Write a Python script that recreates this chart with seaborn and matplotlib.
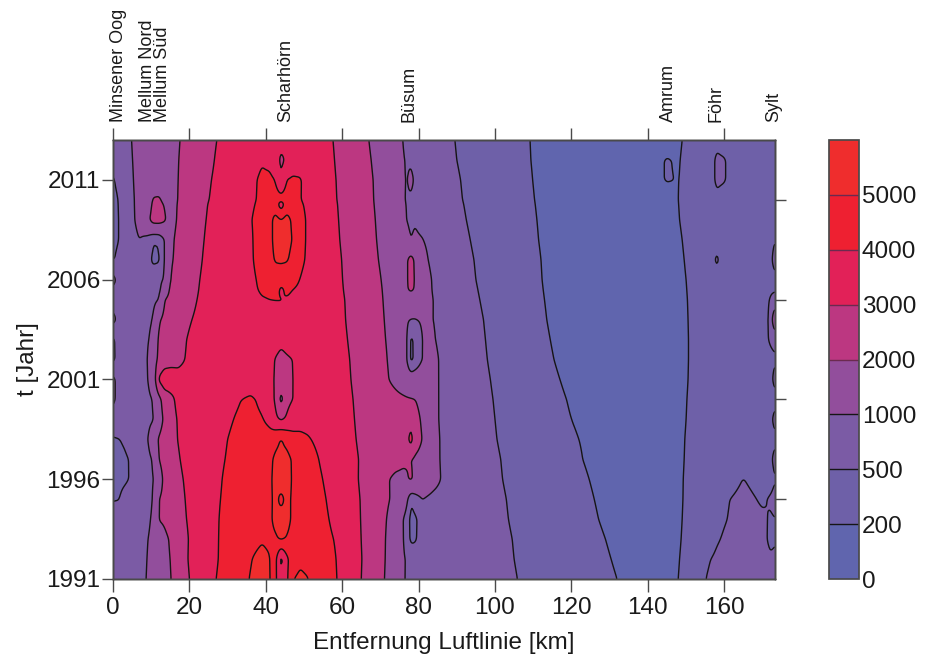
import numpy as np
import matplotlib
matplotlib.use("Agg")
import matplotlib.pyplot as plt
from matplotlib.colors import ListedColormap, BoundaryNorm
import seaborn as sns

km = [0,1.5,3,5,7,9,10.5,12,13.5,15,
      17,20,24,28,32,36,39,41,42.5,44,
      45.5,47,49,51,54,58,62,66,70,74,
      76,77,78,79,81,84,88,95,105,120,
      135,145,148,150,155,158,160,165,170,172,173.3]
years = [1991,1992,1993,1994,1995,1996,1997,1998,1999,2000,2001,2002,2003,2004,2005,
         2005.5,2006,2007,2008,2009,2009.8,2010,2011,2012,2013]

z_1991 = [700,710,720,740,800,1040,1300,1600,1800,1950,
2400,3000,3700,4100,4500,5050,5300,5100,4200,3200,
3800,4950,5200,5030,4500,4100,3450,2850,2200,1450,
1040,950,870,800,740,720,700,622,510,337,
165,150,200,250,495,560,580,620,600,590,580]
z_1992 = [690,700,710,730,780,1010,1250,1550,1800,2000,
2450,3080,3600,4050,4500,4950,5300,5050,4300,2700,
3800,4500,4800,4700,4400,4060,3450,2880,2250,1450,
1050,950,850,780,720,720,700,618,500,324,
145,140,192,242,470,530,560,600,570,520,520]
z_1993 = [680,700,710,720,760,980,1150,1500,1800,2080,
2500,3050,3500,4050,4400,4700,4900,4800,4900,5100,
4950,4800,4700,4560,4300,3980,3400,2860,2300,1400,
1020,720,400,440,700,700,660,616,494,310,
125,140,182,232,380,480,520,590,550,470,490]
z_1994 = [650,670,680,700,740,880,1100,2030,2150,2400,
2700,3100,3550,4030,4350,4600,4750,4850,5200,5300,
5200,4900,4700,4500,4260,3850,3350,2850,2300,1550,
1000,700,380,420,700,700,660,609,481,290,
100,140,175,225,330,440,485,580,540,480,495]
z_1995 = [480,490,600,680,720,800,1020,2000,2200,2450,
2750,3150,3600,3990,4300,4550,4700,4820,5200,4800,
5200,4900,4650,4450,4200,3750,3300,2850,2320,1800,
1500,1100,520,700,1000,800,700,606,473,273,
90,140,170,220,310,400,470,570,470,520,560]
z_1996 = [400,420,450,540,680,830,960,1500,2250,2500,
2830,3200,3650,3950,4300,4500,4650,4800,5300,5400,
5400,4900,4650,4400,4100,3650,3250,2800,2300,1800,
1750,1950,2100,1850,1650,1250,690,595,459,254,
80,140,168,218,300,350,360,505,400,420,490]
z_1997 = [400,420,455,540,680,850,1050,2000,2350,2600,
2930,3300,3600,3900,4200,4400,4500,4750,5200,5300,
5300,4900,4600,4400,3980,3550,3200,2850,2600,2350,
2200,2080,2010,1900,1750,1200,693,593,450,232,
70,140,162,212,300,360,350,340,370,440,570]
z_1998 = [470,490,540,650,720,960,1400,2100,2400,2700,
3020,3350,3600,3850,4150,4350,4300,4300,4700,5050,
4700,4300,4200,4080,3800,3430,3140,2800,2550,2350,
2300,2750,3400,2400,1980,1200,683,580,435,215,
100,140,158,208,300,360,350,340,370,420,450]
z_1999 = [720,720,700,700,740,860,960,1500,2200,2700,
3050,3300,3500,3750,4030,4250,4050,3800,3200,2900,
3150,3550,3700,3700,3600,3370,3110,2750,2480,2300,
2250,2300,2700,2250,1900,1150,680,575,425,200,
95,140,150,200,300,360,350,340,380,430,570]
z_2000 = [1120,800,720,730,780,900,1020,1700,2450,2800,
3170,3350,3500,3700,3900,4150,3800,3400,2900,1700,
2700,2990,3300,3380,3400,3320,3080,2700,2400,2200,
2120,2080,2040,2010,1800,1150,677,569,415,180,
95,140,145,195,300,360,350,340,370,400,430]
z_2001 = [1120,800,730,730,800,970,1300,3100,3600,3450,
3200,3200,3250,3300,3350,3400,3400,3300,2900,2500,
2700,2990,3250,3400,3420,3320,3030,2620,2250,1800,
1550,1400,1350,1350,1380,1150,673,561,400,150,
95,140,138,188,300,360,350,340,380,420,570]
z_2002 = [420,660,720,730,810,980,1500,2200,2500,2700,
2850,3100,3250,3350,3420,3480,3500,3350,2950,2650,
2850,3000,3350,3450,3430,3300,3000,2580,2200,1750,
1500,950,380,600,1020,1150,667,550,383,120,
95,140,135,185,300,370,360,340,400,450,470]
z_2003 = [430,680,730,730,800,950,1150,2150,2350,2580,
2780,3070,3280,3400,3500,3580,3620,3630,3500,3300,
3450,3550,3600,3580,3480,3280,2950,2530,2130,1750,
1500,950,400,600,1020,1040,662,543,371,100,
90,140,135,185,300,380,370,340,420,520,560]
z_2004 = [1150,850,760,720,750,900,1020,1900,2200,2400,
2620,2950,3250,3420,3560,3680,3750,3780,3800,3800,
3780,3740,3680,3620,3500,3260,2900,2480,2100,1700,
1350,1050,990,980,1050,1000,658,535,359,80,
90,140,138,188,300,400,390,350,420,530,1600]
z_2005 = [760,730,720,700,700,740,850,1000,2000,2220,
2450,2800,3200,3430,3620,3800,3950,3995,4005,4020,
3950,3900,3830,3750,3580,3240,2880,2460,2070,1650,
1500,1500,1450,1400,1300,980,641,518,341,75,
90,140,142,192,300,420,410,350,400,510,540]
z_2005h = [900,770,740,710,680,680,780,850,1400,2130,
2330,2720,3180,3440,3650,3850,4080,4150,4200,3900,
4100,4000,3900,3780,3600,3220,2840,2430,2050,1620,
1600,1950,2150,1950,1350,930,632,509,332,72,
90,140,146,196,300,420,410,350,380,480,490]
z_2006 = [1180,800,750,720,690,650,710,850,1060,2000,
2270,2680,3150,3430,3650,3850,4150,4300,4400,4200,
4250,4200,3980,3800,3600,3200,2820,2400,2020,1600,
1650,1950,2300,1950,1400,900,623,500,324,70,
90,140,150,200,300,430,420,350,360,420,440]
z_2007 = [480,560,700,800,700,650,430,440,1000,1900,
2180,2570,3080,3400,3700,3900,4300,4600,5100,5200,
5100,4700,4150,3900,3620,3180,2790,2340,1950,1600,
1650,1950,2300,1900,1200,800,614,491,315,70,
90,140,162,212,320,530,420,350,360,430,590]
z_2008 = [440,495,650,880,1000,800,520,540,1000,1800,
2200,2530,3020,3350,3700,3880,4450,4600,5400,5500,
5400,4950,4250,3900,3600,3130,2750,2300,1900,1450,
1200,1100,1000,1060,1015,800,597,474,297,70,
90,135,175,225,320,430,420,360,350,430,490]
z_2009 = [430,490,730,930,1130,1800,2300,2320,2100,1650,
2080,2470,2970,3300,3650,3950,4350,4700,5300,5050,
5300,4850,4250,3900,3550,3100,2720,2280,1860,1350,
1060,990,930,970,880,760,577,457,286,70,
90,135,192,242,330,410,400,360,350,370,400]
z_2009h = [435,500,740,945,1130,1500,2150,2180,1950,1680,
2040,2420,2930,3280,3570,3870,4200,4350,4500,3400,
4500,4350,4100,3850,3520,3080,2670,2240,1830,1290,
1030,985,960,940,870,750,565,445,278,66,
90,135,198,248,330,420,410,360,350,350,355]
z_2010 = [440,505,760,950,1120,1400,2080,2100,1800,1700,
2013,2394,2898,3250,3550,3850,4150,4300,4400,4400,
4450,4300,4030,3800,3500,3060,2660,2230,1820,1270,
1020,980,960,930,860,740,558,442,275,65,
90,135,200,250,330,463,440,360,350,350,350]
z_2011 = [480,560,760,970,1140,1300,1420,1540,1660,1800,
1990,2370,2840,3200,3500,3800,4150,4150,3980,3050,
4020,4100,4050,3750,3450,3040,2630,2220,1800,1340,
1020,985,1070,960,850,720,550,433,267,60,
90,208,195,245,340,530,510,380,350,350,350]
z_2012 = [560,710,840,990,1150,1310,1430,1560,1680,1810,
1975,2300,2740,3150,3400,3650,3920,3800,3500,2800,
3150,3600,3650,3600,3400,3000,2560,2170,1740,1290,
1010,980,960,910,830,700,532,420,258,60,
90,208,188,238,340,530,510,380,350,350,350]
z_2013 = [720,780,860,1010,1170,1330,1450,1560,1670,1790,
1945,2250,2690,3080,3300,3450,3550,3600,3550,3300,
3550,3650,3600,3500,3350,2960,2530,2110,1660,1200,
980,930,900,880,810,700,524,412,254,60,
90,130,175,225,320,453,430,350,340,340,340]

levels = [0,200,500,1000,2000,3000,4000,5000,6000]
band_colors = ["#6065AE","#6E60A8","#7B5BA5","#924E9C","#BC3781","#E22158","#EE2031","#EF2D2D"]
stations = ["Minsener Oog","Mellum Nord","Mellum Süd","Scharhörn","Büsum","Amrum","Föhr","Sylt"]
station_km = [1.5,9,13,45.2,77.6,145.4,157.9,173]
left_ticks = [1991,1996,2001,2006,2011]
right_ticks = [1995,2000,2005,2010]
x_ticks = [0,20,40,60,80,100,120,140,160]

Z = np.array([z_1991,z_1992,z_1993,z_1994,z_1995,z_1996,z_1997,z_1998,z_1999,z_2000,
              z_2001,z_2002,z_2003,z_2004,z_2005,z_2005h,z_2006,z_2007,z_2008,z_2009,
              z_2009h,z_2010,z_2011,z_2012,z_2013], dtype=float)

# Rounds the corners of the contour lines: a finer mesh for the contouring, lightly blurred.
def round_field(values, xs, ys, step_x=0.25, step_y=0.05, win_x=3, win_y=5):
    fx = np.arange(xs[0], xs[-1] + step_x/2, step_x)
    fy = np.arange(ys[0], ys[-1] + step_y/2, step_y)
    a = np.array([np.interp(fx, xs, row) for row in values])
    a = np.array([np.interp(fy, ys, col) for col in a.T]).T
    def blur(m, win, axis):
        k = np.ones(win)/win
        for _ in range(2):
            pad = [(0, 0), (0, 0)]
            pad[axis] = (win//2, win//2)
            p = np.pad(m, pad, mode="edge")
            m = np.apply_along_axis(lambda v: np.convolve(v, k, mode="valid"), axis, p)
        return m
    return fx, fy, blur(blur(a, win_x, 1), win_y, 0)

fx, fy, F = round_field(Z, km, years)

sns.set_theme(style="ticks")
plt.rcParams["font.family"] = ["Liberation Sans", "DejaVu Sans"]
edge = "#4a4a4a"
text = "#1a1a1a"

W, H = 932, 657
fig = plt.figure(figsize=(W/100, H/100), dpi=100)
ax = fig.add_axes([113/W, 1-579/H, (775-113)/W, (579-140)/H])
cmap = ListedColormap(sns.color_palette(band_colors))
norm = BoundaryNorm(levels, cmap.N)
cf = ax.contourf(fx, fy, F, levels=levels, cmap=cmap, norm=norm)
ax.contour(fx, fy, F, levels=levels[1:-1], colors="#151515", linewidths=1.0)
ax.set_xlim(0, 173.3)
ax.set_ylim(1991, 2013)
ax.set_xticks(x_ticks)
ax.set_yticks(left_ticks)
ax.tick_params(axis="y", length=8, width=1, color=edge, labelsize=17.5, labelcolor=text, pad=1)
ax.tick_params(axis="x", length=9, width=1, color=edge, labelsize=17.5, labelcolor=text, pad=4)
ax.set_xlabel("Entfernung Luftlinie [km]", fontsize=17.5, color=text, labelpad=9)
ax.set_ylabel("t [Jahr]", fontsize=17.5, color=text, labelpad=5)

top = ax.twiny()
top.set_xlim(ax.get_xlim())
top.set_xticks(x_ticks)
top.set_xticklabels([])
top.tick_params(axis="x", length=9, width=1, color=edge)

right = ax.twinx()
right.set_ylim(ax.get_ylim())
right.set_yticks(right_ticks)
right.set_yticklabels([])
right.tick_params(axis="y", length=8, width=1, color=edge)

for a in (ax, top, right):
    for s in a.spines.values():
        s.set_color(edge)
        s.set_linewidth(1)

for name, x in zip(stations, station_km):
    ax.text(x, 1.04, name, rotation=90, ha="center", va="bottom", fontsize=13, color=text,
            transform=ax.get_xaxis_transform())

cax = fig.add_axes([829/W, 1-579/H, 30/W, (579-140)/H])
cb = fig.colorbar(cf, cax=cax, spacing="uniform", ticks=levels[:-1])
cb.minorticks_off()
cb.ax.tick_params(length=0, labelsize=17.5, labelcolor=text, pad=2)
cb.outline.set_edgecolor(edge)
cb.ax.set_yticklabels([str(v) for v in levels[:-1]])
for i, v in enumerate(levels[1:-1]):
    cb.ax.axhline(v, color="#151515" if v <= 1000 else "#6b2a50", lw=1)

fig.savefig("out.png", dpi=100)
